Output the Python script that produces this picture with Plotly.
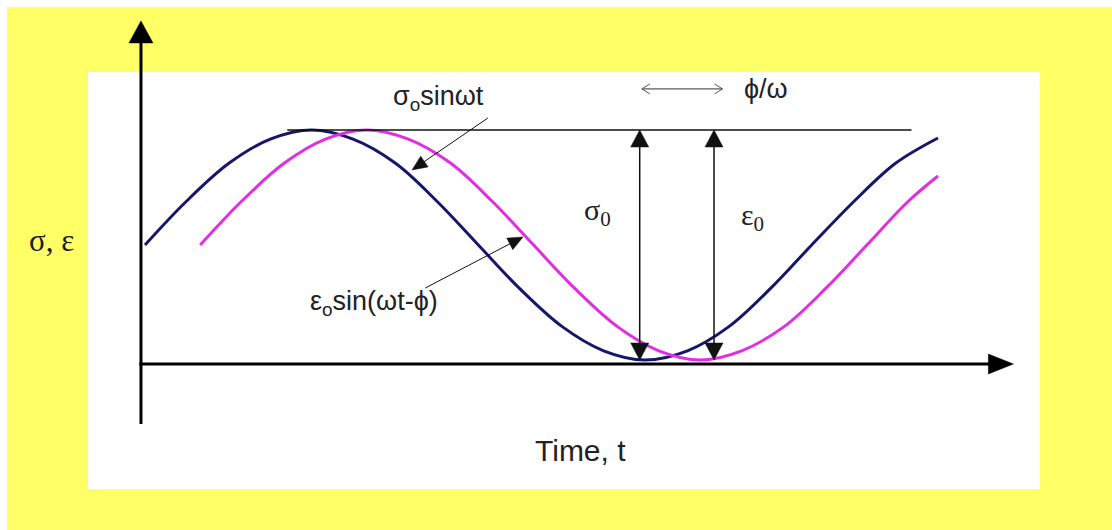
import math
import plotly.graph_objects as go

W, H = 1112, 530

# Phase angle ωt (rad) and normalised amplitude of the applied stress
t_stress = [0.00, 0.39, 0.79, 1.18, 1.57, 1.96, 2.36, 2.75, 3.14, 3.53,
            3.93, 4.32, 4.71, 5.11, 5.50, 5.89, 6.28, 6.68, 7.07, 7.47]
stress = [0.00, 0.38, 0.71, 0.92, 1.00, 0.92, 0.71, 0.38, 0.00, -0.38,
          -0.71, -0.92, -1.00, -0.92, -0.71, -0.38, 0.00, 0.38, 0.71, 0.93]

# Lagging strain response
t_strain = [0.52, 0.91, 1.31, 1.70, 2.09, 2.48, 2.88, 3.27, 3.66, 4.05,
            4.45, 4.84, 5.23, 5.62, 6.02, 6.41, 6.80, 7.19, 7.47]
strain = [0.00, 0.38, 0.71, 0.92, 1.00, 0.92, 0.71, 0.38, 0.00, -0.38,
          -0.71, -0.92, -1.00, -0.92, -0.71, -0.38, 0.00, 0.38, 0.60]

# Amplitude markers (σ0 at the stress trough, ε0 at the strain trough)
amp_t = [4.66, 5.36]
amp_top, amp_bottom = 1.00, -1.00

# Phase lag span φ/ω
lag_span = [4.68, 5.44]
lag_level = 1.357

NAVY = "#16166B"
MAGENTA = "#E22DE2"
INK = "#111111"
SANS = "Arial, Liberation Sans, sans-serif"
SERIF = "Times New Roman, Liberation Serif, serif"

# Axis layout (data units)
X_RANGE = [-1.366, 9.109]
Y_RANGE = [-2.478, 2.130]
AXIS_T = -0.038
AXIS_Y = -1.035

# pixels per data unit, used to size arrowheads in screen space
KX = W / (X_RANGE[1] - X_RANGE[0])
KY = H / (Y_RANGE[1] - Y_RANGE[0])

fig = go.Figure()


def line(xs, ys, color, width):
    fig.add_trace(go.Scatter(x=xs, y=ys, mode="lines",
                             line=dict(color=color, width=width),
                             hoverinfo="skip"))


def _frame(tip, tail):
    dx = (tip[0] - tail[0]) * KX
    dy = (tip[1] - tail[1]) * KY
    n = math.hypot(dx, dy)
    return dx / n, dy / n


def _back(tip, u, d):
    return tip[0] - u[0] * d / KX, tip[1] - u[1] * d / KY


def filled_head(tip, tail, length, width, color):
    u = _frame(tip, tail)
    bx, by = _back(tip, u, length)
    px, py = -u[1], u[0]
    xs = [tip[0], bx + px * width / 2 / KX, bx - px * width / 2 / KX, tip[0]]
    ys = [tip[1], by + py * width / 2 / KY, by - py * width / 2 / KY, tip[1]]
    fig.add_trace(go.Scatter(x=xs, y=ys, mode="lines", fill="toself",
                             fillcolor=color, line=dict(color=color, width=0.5),
                             hoverinfo="skip"))


def open_head(tip, tail, length, width, color, lw):
    u = _frame(tip, tail)
    bx, by = _back(tip, u, length)
    px, py = -u[1], u[0]
    xs = [bx + px * width / 2 / KX, tip[0], bx - px * width / 2 / KX]
    ys = [by + py * width / 2 / KY, tip[1], by - py * width / 2 / KY]
    line(xs, ys, color, lw)


def arrow(tail, tip, lw, length, width, color=INK, both=False):
    end = _back(tip, _frame(tip, tail), length * 0.7)
    start = tail
    if both:
        start = _back(tail, _frame(tail, tip), length * 0.7)
        filled_head(tail, tip, length, width, color)
    line([start[0], end[0]], [start[1], end[1]], color, lw)
    filled_head(tip, tail, length, width, color)


# Signals
fig.add_trace(go.Scatter(x=t_stress, y=stress, mode="lines",
                         line=dict(color=NAVY, width=3, shape="spline"),
                         hoverinfo="skip"))
fig.add_trace(go.Scatter(x=t_strain, y=strain, mode="lines",
                         line=dict(color=MAGENTA, width=3, shape="spline"),
                         hoverinfo="skip"))

# Reference line at the peak amplitude
line([1.34, 7.22], [amp_top, amp_top], INK, 1.5)

# Coordinate axes
arrow((AXIS_T, -1.557), (AXIS_T, 1.948), 3, 22, 24, "#000000")
arrow((AXIS_T - 0.015, AXIS_Y), (8.18, AXIS_Y), 3, 25, 20, "#000000")

# σ0 and ε0 amplitude arrows
for t in amp_t:
    arrow((t, amp_bottom), (t, amp_top), 1.5, 17, 18, INK, both=True)

# Phase lag φ/ω (open heads)
line(lag_span, [lag_level, lag_level], "#333333", 1)
open_head((lag_span[1], lag_level), (lag_span[0], lag_level), 8, 10, "#555555", 1)
open_head((lag_span[0], lag_level), (lag_span[1], lag_level), 8, 10, "#555555", 1)

# Label pointers
arrow((3.23, 1.104), (2.515, 0.652), 1, 15, 13, INK)
arrow((2.64, -0.374), (3.561, 0.070), 1, 15, 13, INK)

ann = []


def label(text, x, y, size, family=SANS, color="#222222"):
    ann.append(dict(x=x, y=y, xref="x", yref="y", text=text, showarrow=False,
                    font=dict(family=family, size=size, color=color),
                    xanchor="center", yanchor="middle"))


label("σ<sub>o</sub>sinωt", 2.76, 1.278, 27)
label("ε<sub>o</sub>sin(ωt-ϕ)", 2.157, -0.504, 27)
label("σ<sub>0</sub>", 4.258, 0.287, 30, family=SERIF)
label("ε<sub>0</sub>", 5.718, 0.243, 30, family=SERIF)
label("ϕ/ω", 5.85, 1.357, 27)
label("Time, t", 4.098, -1.783, 30)
label("σ, ε", -0.885, 0.043, 31, family=SERIF, color="#1a1a1a")

shapes = [
    dict(type="rect", xref="paper", yref="paper", x0=7 / W, x1=1,
         y0=0, y1=1 - 7 / H, fillcolor="#FFFF66", line=dict(width=0),
         layer="below"),
    dict(type="rect", xref="paper", yref="paper", x0=88 / W, x1=1040 / W,
         y0=1 - 489 / H, y1=1 - 72 / H, fillcolor="#FFFFFF",
         line=dict(width=0), layer="below"),
]

fig.update_layout(
    width=W, height=H,
    margin=dict(l=0, r=0, t=0, b=0),
    paper_bgcolor="#FFFFFF",
    plot_bgcolor="rgba(0,0,0,0)",
    showlegend=False,
    xaxis=dict(range=X_RANGE, visible=False, fixedrange=True),
    yaxis=dict(range=Y_RANGE, visible=False, fixedrange=True),
    annotations=ann,
    shapes=shapes,
)

fig.write_html("out.html", config={"displayModeBar": False})
